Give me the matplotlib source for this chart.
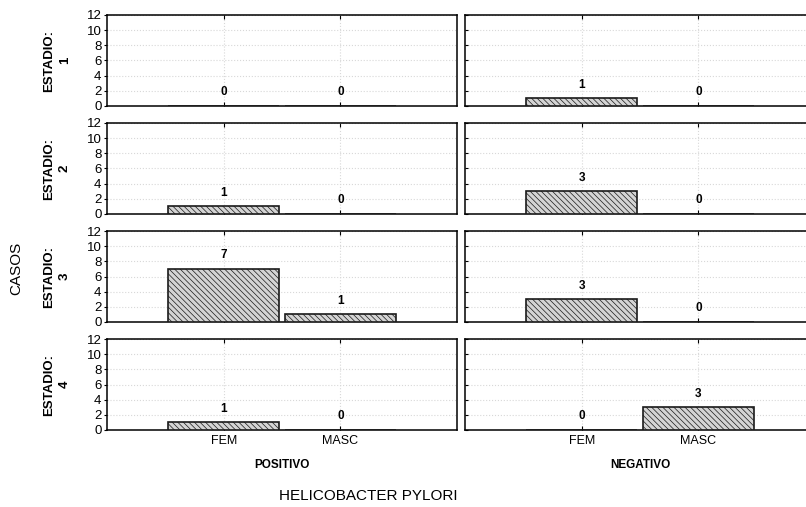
import matplotlib.pyplot as plt
import numpy as np

plt.rcParams['font.family'] = ['Liberation Sans', 'DejaVu Sans']
plt.rcParams['hatch.color'] = '#8a8a8a'
plt.rcParams['hatch.linewidth'] = 0.5

# casos por estadio (1..4), sexo y resultado de H. pylori
estadios = ["1", "2", "3", "4"]
sexos = ["FEM", "MASC"]
grupos = ["POSITIVO", "NEGATIVO"]
pos_fem = [0, 1, 7, 1]
pos_masc = [0, 0, 1, 0]
neg_fem = [1, 3, 3, 0]
neg_masc = [0, 0, 0, 3]
yticks = [0, 2, 4, 6, 8, 10, 12]

datos = {"POSITIVO": (pos_fem, pos_masc), "NEGATIVO": (neg_fem, neg_masc)}

W, H = 806, 507
fig = plt.figure(figsize=(W / 100, H / 100), dpi=100)

tops = [15, 123, 231, 339]
alto = 91
lefts = [107, 465]
ancho = 350

x = np.arange(len(sexos))
for i, est in enumerate(estadios):
    for j, g in enumerate(grupos):
        ax = fig.add_axes([lefts[j] / W, 1 - (tops[i] + alto) / H, ancho / W, alto / H])
        fem, masc = datos[g]
        vals = [fem[i], masc[i]]
        ax.bar(x, vals, width=0.95, color="#d4d4d4", edgecolor="#1a1a1a",
               linewidth=1.2, hatch="\\\\\\\\\\\\", zorder=3)
        for xx, v in zip(x, vals):
            ax.text(xx, v + 1.8, str(v), ha="center", va="center",
                    fontsize=8.5, fontweight="bold", zorder=4)
        ax.set_xlim(-1, 2)
        ax.set_ylim(0, 12)
        ax.set_yticks(yticks)
        ax.set_xticks(x)
        ax.grid(True, color="#d8d8d8", ls=":", lw=0.8, zorder=0)
        for s in ax.spines.values():
            s.set_linewidth(1.1)
        ax.tick_params(axis="x", direction="in", length=3, top=True)
        if j == 0:
            ax.tick_params(axis="y", direction="out", length=2, labelsize=9.5, pad=2)
        else:
            ax.tick_params(axis="y", direction="in", length=2, labelleft=False)
        if i == len(estadios) - 1:
            ax.set_xticklabels(sexos, fontsize=9)
            ax.set_xlabel(g, fontsize=8.5, fontweight="bold", labelpad=9)
        else:
            ax.set_xticklabels([])
    fig.text(57 / W, 1 - (tops[i] + alto / 2) / H, f"ESTADIO:\n{est}",
             rotation=90, ha="center", va="center", fontsize=9.5,
             fontweight="bold", multialignment="center", linespacing=1.4)

fig.text(16 / W, 1 - 268 / H, "CASOS", rotation=90, ha="center", va="center", fontsize=11)
fig.text(368 / W, 1 - 496 / H, "HELICOBACTER PYLORI", ha="center", va="center", fontsize=11)

fig.savefig("out.png", dpi=100)
